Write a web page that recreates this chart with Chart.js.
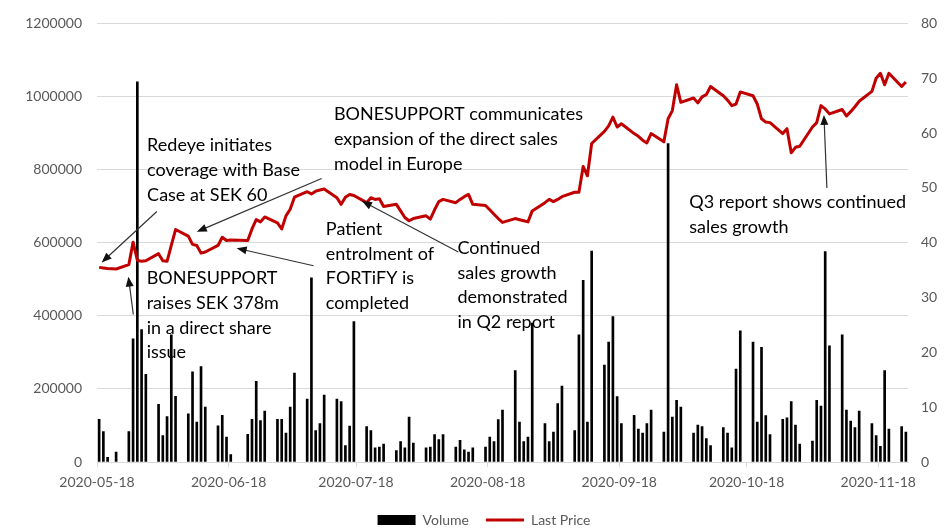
<!DOCTYPE html>
<html>
<head>
<meta charset="utf-8">
<script src="https://cdn.jsdelivr.net/npm/chart.js@4.4.1/dist/chart.umd.min.js"></script>
<style>
html, body { margin: 0; padding: 0; background: #fff; }
#wrap { width: 944px; height: 529px; }
</style>
</head>
<body>
<div id="wrap"><canvas id="price-chart"></canvas></div>
<script>
// trading days shown on the chart
const dates = [
    '2020-05-18', '2020-05-19', '2020-05-20', '2020-05-22',
    '2020-05-25', '2020-05-26', '2020-05-27', '2020-05-28', '2020-05-29',
    '2020-06-01', '2020-06-02', '2020-06-03', '2020-06-04', '2020-06-05',
    '2020-06-08', '2020-06-09', '2020-06-10', '2020-06-11', '2020-06-12',
    '2020-06-15', '2020-06-16', '2020-06-17', '2020-06-18',
    '2020-06-22', '2020-06-23', '2020-06-24', '2020-06-25', '2020-06-26',
    '2020-06-29', '2020-06-30', '2020-07-01', '2020-07-02', '2020-07-03',
    '2020-07-06', '2020-07-07', '2020-07-08', '2020-07-09', '2020-07-10',
    '2020-07-13', '2020-07-14', '2020-07-15', '2020-07-16', '2020-07-17',
    '2020-07-20', '2020-07-21', '2020-07-22', '2020-07-23', '2020-07-24',
    '2020-07-27', '2020-07-28', '2020-07-29', '2020-07-30', '2020-07-31',
    '2020-08-03', '2020-08-04', '2020-08-05', '2020-08-06', '2020-08-07',
    '2020-08-10', '2020-08-11', '2020-08-12', '2020-08-13', '2020-08-14',
    '2020-08-17', '2020-08-18', '2020-08-19', '2020-08-20', '2020-08-21',
    '2020-08-24', '2020-08-25', '2020-08-26', '2020-08-27', '2020-08-28',
    '2020-08-31', '2020-09-01', '2020-09-02', '2020-09-03', '2020-09-04',
    '2020-09-07', '2020-09-08', '2020-09-09', '2020-09-10', '2020-09-11',
    '2020-09-14', '2020-09-15', '2020-09-16', '2020-09-17', '2020-09-18',
    '2020-09-21', '2020-09-22', '2020-09-23', '2020-09-24', '2020-09-25',
    '2020-09-28', '2020-09-29', '2020-09-30', '2020-10-01', '2020-10-02',
    '2020-10-05', '2020-10-06', '2020-10-07', '2020-10-08', '2020-10-09',
    '2020-10-12', '2020-10-13', '2020-10-14', '2020-10-15', '2020-10-16',
    '2020-10-19', '2020-10-20', '2020-10-21', '2020-10-22', '2020-10-23',
    '2020-10-26', '2020-10-27', '2020-10-28', '2020-10-29', '2020-10-30',
    '2020-11-02', '2020-11-03', '2020-11-04', '2020-11-05', '2020-11-06',
    '2020-11-09', '2020-11-10', '2020-11-11', '2020-11-12', '2020-11-13',
    '2020-11-16', '2020-11-17', '2020-11-18', '2020-11-19', '2020-11-20',
    '2020-11-23', '2020-11-24'
];

const volume = [
    117000, 83000, 13000, 27000,
    83000, 337000, 1040000, 362000, 240000,
    158000, 72000, 124000, 348000, 180000,
    132000, 247000, 109000, 261000, 150000,
    99000, 128000, 68000, 20000,
    76000, 117000, 221000, 113000, 139000,
    117000, 117000, 79000, 150000, 243000,
    172000, 504000, 86000, 105000, 183000,
    172000, 165000, 45000, 98000, 384000,
    97000, 86000, 39000, 41000, 49000,
    31000, 56000, 39000, 123000, 52000,
    39000, 41000, 75000, 61000, 75000,
    41000, 59000, 33000, 27000, 39000,
    41000, 68000, 56000, 116000, 142000,
    250000, 109000, 56000, 68000, 380000,
    105000, 56000, 82000, 160000, 208000,
    86000, 348000, 497000, 109000, 577000,
    265000, 328000, 398000, 179000, 105000,
    128000, 90000, 79000, 105000, 142000,
    82000, 871000, 123000, 169000, 150000,
    79000, 101000, 97000, 64000, 45000,
    94000, 79000, 39000, 254000, 359000,
    328000, 109000, 314000, 127000, 75000,
    117000, 121000, 165000, 101000, 49000,
    57000, 169000, 153000, 576000, 318000,
    348000, 142000, 112000, 94000, 139000,
    105000, 72000, 43000, 250000, 90000,
    97000, 82000
];

const lastPrice = [
    35.5, 35.4, 35.3, 35.2,
    36.0, 40.1, 36.8, 36.6, 36.7,
    38.0, 36.7, 36.6, 39.5, 42.4,
    41.2, 39.7, 39.5, 38.1, 38.3,
    39.5, 41.0, 40.4, 40.5,
    40.4, 42.5, 44.2, 43.8, 44.7,
    43.6, 42.5, 44.9, 46.1, 48.3,
    49.3, 48.9, 49.4, 49.6, 49.8,
    48.2, 47.0, 48.3, 48.8, 48.6,
    47.3, 48.2, 47.9, 48.0, 46.6,
    47.0, 45.8, 44.6, 44.0, 44.4,
    44.9, 44.3, 46.0, 47.5, 47.9,
    47.3, 47.9, 48.4, 48.8, 47.0,
    46.8, 46.0, 45.2, 44.4, 43.7,
    44.4, 44.2, 44.0, 43.8, 45.8,
    47.3, 47.9, 47.5, 47.9, 48.4,
    49.2, 49.2, 53.9, 52.2, 58.1,
    60.3, 61.3, 62.9, 61.1, 61.7,
    59.9, 59.4, 58.7, 58.2, 59.9,
    58.4, 62.6, 64.1, 68.8, 65.6,
    66.4, 65.5, 66.6, 67.0, 68.5,
    66.8, 66.0, 65.0, 65.3, 67.5,
    66.8, 65.3, 62.6, 62.0, 61.9,
    59.9, 60.8, 56.4, 57.4, 57.6,
    61.1, 61.9, 65.0, 64.4, 63.5,
    64.3, 63.1, 63.9, 64.8, 65.8,
    67.6, 70.0, 70.9, 68.8, 70.9,
    68.5, 69.3
];

const tickDates = ['2020-05-18', '2020-06-18', '2020-07-18', '2020-08-18', '2020-09-18', '2020-10-18', '2020-11-18'];
const firstDay = '2020-05-18';
const lastDay = '2020-11-24';

// text notes: x = days since start, y = price level; arrows go from -> to
const notes = [
    { text: ['Redeye initiates', 'coverage with Base', 'Case at SEK 60'], x: 11.3, y: 57.7, from: [13.6, 45.7], to: [0.6, 36.4] },
    { text: ['BONESUPPORT', 'raises SEK 378m', 'in a direct share', 'issue'], x: 11.2, y: 33.5, from: [8.05, 26.9], to: [6.9, 33.8] },
    { text: ['BONESUPPORT communicates', 'expansion of the direct sales', 'model in Europe'], x: 55.3, y: 63.4, from: [52.4, 51.7], to: [23.0, 42.0] },
    { text: ['Patient', 'entrolment of', 'FORTiFY is', 'completed'], x: 53.4, y: 42.5, from: [50.5, 35.8], to: [32.4, 39.0] },
    { text: ['Continued', 'sales growth', 'demonstrated', 'in Q2 report'], x: 84.4, y: 39.0, from: [84.6, 38.3], to: [61.9, 47.6] },
    { text: ['Q3 report shows continued', 'sales growth'], x: 139.0, y: 47.3, from: [171.4, 50.0], to: [170.7, 63.3] }
];

function dayOf(s) {
    return (new Date(s) - new Date(firstDay)) / 86400000;
}

const tickGrey = '#595959';
Chart.defaults.font.family = 'Lato, "Open Sans", sans-serif';
Chart.defaults.color = tickGrey;

const notesPlugin = {
    id: 'notes',
    afterDatasetsDraw(chart) {
        const c = chart.ctx;
        const xs = chart.scales.x;
        const ys = chart.scales.y1;
        c.save();
        c.font = '18px Lato';
        c.fillStyle = '#000';
        c.textAlign = 'left';
        c.textBaseline = 'middle';
        notes.forEach(n => {
            const tx = xs.getPixelForValue(n.x);
            const ty = ys.getPixelForValue(n.y);
            n.text.forEach((line, i) => c.fillText(line, tx, ty + i * 24.7));

            const x1 = xs.getPixelForValue(n.from[0]), y1 = ys.getPixelForValue(n.from[1]);
            const x2 = xs.getPixelForValue(n.to[0]), y2 = ys.getPixelForValue(n.to[1]);
            const ang = Math.atan2(y2 - y1, x2 - x1);
            const len = 10, half = 4;
            c.strokeStyle = '#333';
            c.lineWidth = 1.2;
            c.beginPath();
            c.moveTo(x1, y1);
            c.lineTo(x2 - Math.cos(ang) * len * 0.8, y2 - Math.sin(ang) * len * 0.8);
            c.stroke();
            c.fillStyle = '#111';
            c.beginPath();
            c.moveTo(x2, y2);
            c.lineTo(x2 - Math.cos(ang) * len - Math.sin(ang) * half, y2 - Math.sin(ang) * len + Math.cos(ang) * half);
            c.lineTo(x2 - Math.cos(ang) * len + Math.sin(ang) * half, y2 - Math.sin(ang) * len - Math.cos(ang) * half);
            c.closePath();
            c.fill();
            c.fillStyle = '#000';
        });
        c.restore();
    }
};

// nudge the legend to where it sits in the original
const legendShift = {
    id: 'legendShift',
    afterLayout(chart) {
        chart.legend.left += 12;
        chart.legend.right += 12;
    }
};

new Chart(document.getElementById('price-chart'), {
    type: 'bar',
    data: {
        datasets: [{
            type: 'bar',
            label: 'Volume',
            data: dates.map((d, i) => ({ x: dayOf(d), y: volume[i] })),
            backgroundColor: '#000',
            borderWidth: 0,
            barThickness: 2,
            pointStyle: 'rect',
            yAxisID: 'y',
            order: 1
        }, {
            type: 'line',
            label: 'Last Price',
            data: dates.map((d, i) => ({ x: dayOf(d), y: lastPrice[i] })),
            borderColor: '#C00000',
            backgroundColor: '#C00000',
            borderWidth: 3,
            borderJoinStyle: 'round',
            pointRadius: 0,
            pointStyle: 'line',
            tension: 0,
            yAxisID: 'y1',
            order: 0
        }]
    },
    options: {
        responsive: true,
        maintainAspectRatio: false,
        animation: false,
        layout: { padding: { left: 0, right: 0, top: 19, bottom: -8 } },
        plugins: {
            tooltip: { enabled: false },
            legend: {
                position: 'bottom',
                labels: {
                    usePointStyle: true,
                    pointStyleWidth: 38,
                    boxHeight: 10,
                    padding: 17,
                    color: tickGrey,
                    font: { size: 14 },
                    sort: (a, b) => a.datasetIndex - b.datasetIndex
                }
            }
        },
        scales: {
            x: {
                type: 'linear',
                offset: false,
                min: dayOf(firstDay) - 0.5,
                max: dayOf(lastDay) + 0.5,
                afterBuildTicks: s => { s.ticks = tickDates.map(d => ({ value: dayOf(d) - 0.5 })); },
                afterFit: s => { s.height = 34; },
                grid: { offset: false, drawOnChartArea: false, drawTicks: true, tickLength: 5, color: '#d9d9d9' },
                border: { display: true, color: '#d9d9d9' },
                ticks: {
                    autoSkip: false,
                    maxRotation: 0,
                    padding: 7,
                    font: { size: 14 },
                    callback: (v, i) => tickDates[i]
                }
            },
            y: {
                position: 'left',
                min: 0,
                max: 1200000,
                afterFit: s => { s.width = 97; },
                grid: { color: '#d9d9d9', drawTicks: false },
                border: { display: false },
                ticks: { stepSize: 200000, padding: 15, font: { size: 14 }, callback: v => String(v) }
            },
            y1: {
                position: 'right',
                min: 0,
                max: 80,
                afterFit: s => { s.width = 36; },
                grid: { display: false, drawOnChartArea: false, drawTicks: false },
                border: { display: false },
                ticks: { stepSize: 10, padding: 13, font: { size: 14 } }
            }
        }
    },
    plugins: [notesPlugin, legendShift]
});
</script>
</body>
</html>
